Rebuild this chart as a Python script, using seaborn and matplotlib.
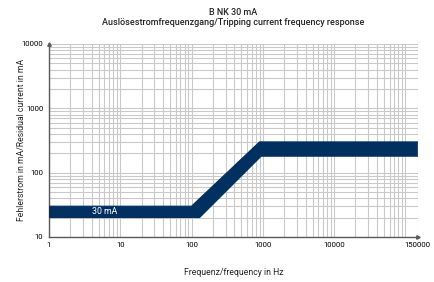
import matplotlib
matplotlib.use("Agg")
import matplotlib.pyplot as plt
import matplotlib.ticker as mticker
import seaborn as sns
import pandas as pd

# ---- data ----
upper_freq = [1, 100, 900, 150000]
upper_curr = [30, 30, 300, 300]
lower_freq = [1, 130, 950, 150000]
lower_curr = [20, 20, 180, 180]
x_ticks = [1, 10, 100, 1000, 10000, 150000]
x_tick_labels = ["1", "10", "100", "1000", "10000", "150000"]
y_ticks = [10, 100, 1000, 10000]
y_tick_labels = ["10", "100", "1000", "10000"]
band_label = "30 mA"
title_1 = "B NK 30 mA"
title_2 = "Auslösestromfrequenzgang/Tripping current frequency response"
x_label = "Frequenz/frequency in Hz"
y_label = "Fehlerstrom in mA/Residual current in mA"

sns.set_style("white")
plt.rcParams["font.family"] = ["Roboto", "DejaVu Sans"]

BAND = "#00305f"
GRID = "#c9c9c9"
SPINE = "#5a5a5a"

fig = plt.figure(figsize=(4.35, 2.82), dpi=100)
ax = fig.add_axes([0.1126, 0.160, 0.848, 0.684])

ax.set_xscale("log")
ax.set_yscale("log")
ax.set_xlim(1, 150000)
ax.set_ylim(10, 10000)

# band polygon built from the edge arrays
poly_x = upper_freq + lower_freq[::-1]
poly_y = upper_curr + lower_curr[::-1]
ax.fill(poly_x, poly_y, color=BAND, lw=0, zorder=3)
df_u = pd.DataFrame({"f": upper_freq, "i": upper_curr})
df_l = pd.DataFrame({"f": lower_freq, "i": lower_curr})
sns.lineplot(data=df_u, x="f", y="i", ax=ax, color=BAND, lw=0.8, zorder=3, sort=False)
sns.lineplot(data=df_l, x="f", y="i", ax=ax, color=BAND, lw=0.8, zorder=3, sort=False)

ax.text(6.0, 24.5, band_label, color="white", fontsize=6.3, ha="center", va="center", zorder=4)

# ticks & grid
ax.set_xticks(x_ticks)
ax.set_xticklabels(x_tick_labels)
ax.set_yticks(y_ticks)
ax.set_yticklabels(y_tick_labels)
ax.xaxis.set_minor_locator(mticker.LogLocator(base=10, subs=range(1, 10), numticks=20))
ax.yaxis.set_minor_locator(mticker.LogLocator(base=10, subs=range(1, 10), numticks=20))
ax.xaxis.set_minor_formatter(mticker.NullFormatter())
ax.yaxis.set_minor_formatter(mticker.NullFormatter())
ax.grid(True, which="both", color=GRID, lw=0.8, zorder=0)
ax.set_axisbelow(True)

ax.tick_params(axis="x", which="major", length=0, labelsize=5.6, pad=4, colors="black")
ax.tick_params(axis="y", which="major", length=4, direction="inout", width=0.8,
               labelsize=5.6, pad=2, color=SPINE, labelcolor="black")
ax.tick_params(axis="both", which="minor", length=0)

for s in ["top", "right"]:
    ax.spines[s].set_visible(False)
for s in ["left", "bottom"]:
    ax.spines[s].set_color(SPINE)
    ax.spines[s].set_linewidth(1.0)

# arrow heads at axis ends
ax.plot(1, 0, ">", transform=ax.transAxes, clip_on=False, color=SPINE, ms=2.5)
ax.plot(0, 1, "^", transform=ax.transAxes, clip_on=False, color=SPINE, ms=2.5)

ax.set_xlabel(x_label, fontsize=6.2, labelpad=14)
ax.set_ylabel(y_label, fontsize=6.2, labelpad=8)
ax.yaxis.set_label_coords(-0.062, 0.5)

fig.text(0.537, 0.957, title_1, ha="center", va="center", fontsize=6.5, fontweight="medium")
fig.text(0.537, 0.920, title_2, ha="center", va="center", fontsize=6.5, fontweight="medium")

fig.savefig("out.png", dpi=100)
